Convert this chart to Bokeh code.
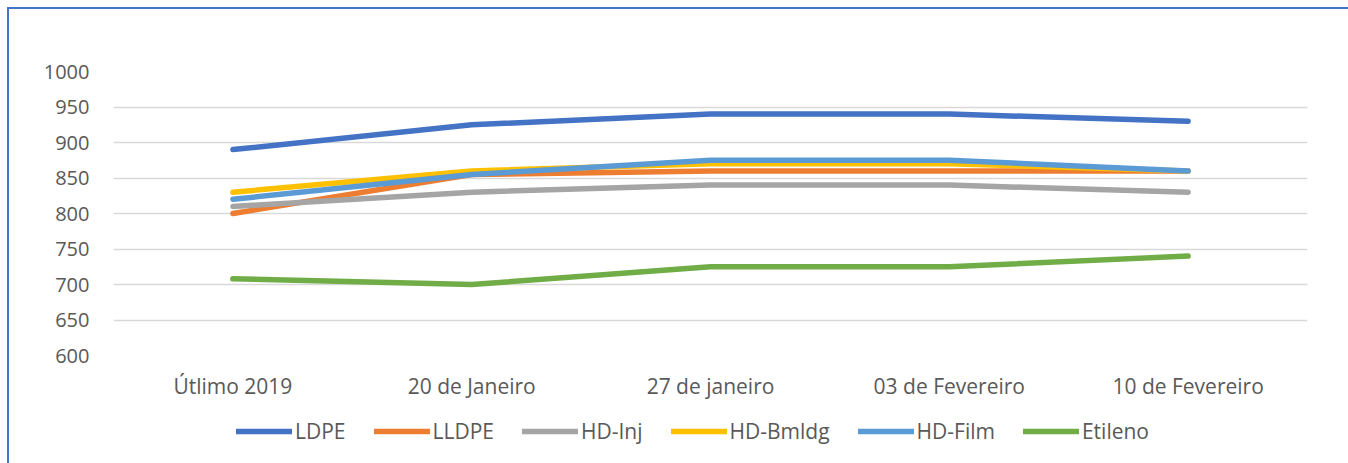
from bokeh.plotting import figure
from bokeh.layouts import column
from bokeh.models import FactorRange, Range1d, FixedTicker, Legend, LegendItem
from bokeh.embed import file_html
from bokeh.resources import INLINE

categories = ["Útlimo 2019", "20 de Janeiro", "27 de janeiro", "03 de Fevereiro", "10 de Fevereiro"]
ldpe = [890, 925, 940, 940, 930]
lldpe = [800, 855, 860, 860, 860]
hd_inj = [810, 830, 840, 840, 830]
hd_bmldg = [830, 860, 870, 870, 860]
hd_film = [820, 855, 875, 875, 860]
etileno = [708, 700, 725, 725, 740]
y_ticks = [600, 650, 700, 750, 800, 850, 900, 950, 1000]

series = [
    ("LDPE", ldpe, "#4472C4"),
    ("LLDPE", lldpe, "#ED7D31"),
    ("HD-Inj", hd_inj, "#A5A5A5"),
    ("HD-Bmldg", hd_bmldg, "#FFC000"),
    ("HD-Film", hd_film, "#5B9BD5"),
    ("Etileno", etileno, "#70AD47"),
]

FONT = "Open Sans"
TXT = "#595959"
W = 1339

# main chart
p = figure(width=W, height=396, output_backend="svg", toolbar_location=None,
           x_range=FactorRange(factors=categories, range_padding=0),
           y_range=Range1d(600, 1000),
           min_border_left=104, min_border_right=41, min_border_top=62, min_border_bottom=50)
p.outline_line_color = None

for name, vals, col in series:
    p.line(categories, vals, line_color=col, line_width=5.5, line_cap="round", line_join="round")

p.yaxis.ticker = FixedTicker(ticks=y_ticks)
for ax in (p.xaxis[0], p.yaxis[0]):
    ax.axis_line_color = None
    ax.major_tick_line_color = None
    ax.minor_tick_line_color = None
    ax.major_label_text_font = FONT
    ax.major_label_text_font_size = "20px"
    ax.major_label_text_color = TXT
p.xaxis.major_label_text_font_size = "21px"
p.yaxis.major_label_standoff = 18
p.xaxis.major_label_standoff = 10

p.xgrid.grid_line_color = None
p.ygrid.grid_line_color = "#D9D9D9"
p.ygrid.grid_line_width = 1.5

# legend strip (same series, drawn outside its visible range; only the legend shows)
LH = 58
q = figure(width=W, height=LH, output_backend="svg", toolbar_location=None,
           x_range=FactorRange(factors=categories, range_padding=0), y_range=Range1d(0, LH),
           min_border_left=0, min_border_right=0, min_border_top=0, min_border_bottom=0)
q.axis.visible = False
q.grid.visible = False
q.outline_line_color = None
items = []
for name, vals, col in series:
    r = q.line(categories, vals, line_color=col, line_width=5.5, line_cap="round", line_join="round")
    items.append(LegendItem(label=name, renderers=[r]))

legend = Legend(items=items, orientation="horizontal", location=(123, 18),
                glyph_width=56, glyph_height=20, label_standoff=3, spacing=28,
                padding=0, margin=0, border_line_color=None, background_fill_alpha=0,
                label_text_font=FONT, label_text_font_size="21px", label_text_color=TXT)
q.add_layout(legend, "center")

layout = column(p, q, spacing=0,
                styles={"margin-top": "7px", "margin-left": "7px",
                        "border-top": "2px solid #4472C4", "border-left": "2px solid #4472C4"})

open("out.html", "w").write(file_html(layout, INLINE))
